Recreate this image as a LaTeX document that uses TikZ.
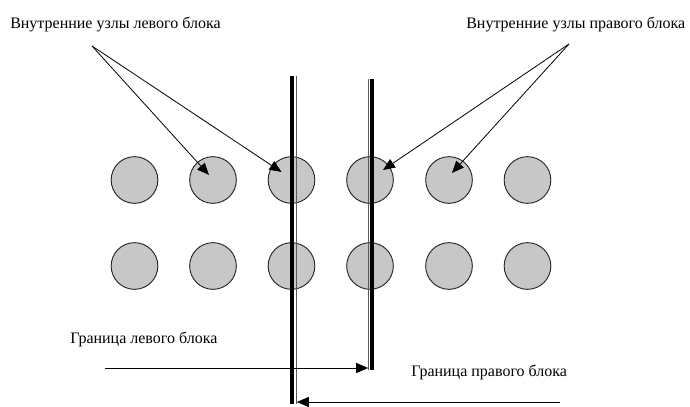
\documentclass[tikz,border=0pt]{standalone}
\usepackage{fontspec}
\setmainfont{Liberation Serif}
\usetikzlibrary{arrows.meta}
\usetikzlibrary{positioning}
\tikzset{
	knot/.style={draw=black!85, fill=black!22, circle, minimum size=35pt, inner sep=0pt, line width=0.7pt},
	pointer/.style={draw=black, line width=0.6pt, -{Triangle[length=9pt,width=7.5pt]}},
	caption/.style={font=\fontsize{12}{14}\selectfont, inner sep=0pt, anchor=west},
	edgebar/.style={draw=black, line width=2.8pt},
	edgethin/.style={draw=black!65, line width=0.8pt},
}

\begin{document}
\begin{tikzpicture}[x=0.75pt, y=-0.75pt]
			\useasboundingbox (0,0) rectangle (690,407);
			% Nodes
			\foreach \i/\x in {1/134.5,2/213,3/291.5,4/370,5/449,6/527.5} {
				\node [knot] (up\i) at (\x,180) {};
				\node [knot] (dn\i) at (\x,266) {};
			}
			% Block boundaries
			\coordinate (lbTop) at (292.3,76);
			\coordinate (lbBot) at (292.3,404);
			\coordinate (rbTop) at (372.2,79);
			\coordinate (rbBot) at (372.2,369.5);
			\draw [edgebar] (lbTop)--(lbBot);
			\draw [edgethin] ([shift={(3.8,0)}]lbTop)--([shift={(3.8,0)}]lbBot);
			\draw [edgebar] (rbTop)--(rbBot);
			\draw [edgethin] ([shift={(-3.9,0)}]rbTop)--([shift={(-3.9,0)}]rbBot);
			% Labels
			\node [caption] (inLeft) at (10,24) {Внутренние узлы левого блока};
			\node [caption] (inRight) at (466,24) {Внутренние узлы правого блока};
			\node [caption] (bdLeft) at (70,339) {Граница левого блока};
			\node [caption] (bdRight) at (411,372) {Граница правого блока};
			% Pointers
			\coordinate (inLeftFoot) at (92,46);
			\coordinate (inRightFoot) at (569,44);
			\draw [pointer] (inLeftFoot)--([shift={(-4,-5)}]up2.center);
			\draw [pointer] (inLeftFoot)--([shift={(-10,-8)}]up3.center);
			\draw [pointer] (inRightFoot)--([shift={(13,-10)}]up4.center);
			\draw [pointer] (inRightFoot)--([shift={(3,-7)}]up5.center);
			\coordinate (bdLeftTail) at (105,368);
			\coordinate (bdRightTail) at (560,402);
			\draw [pointer] (bdLeftTail)--([shift={(-4,-1.5)}]rbBot);
			\draw [pointer] (bdRightTail)--([shift={(4.5,-2)}]lbBot);
		\end{tikzpicture}
\end{document}
